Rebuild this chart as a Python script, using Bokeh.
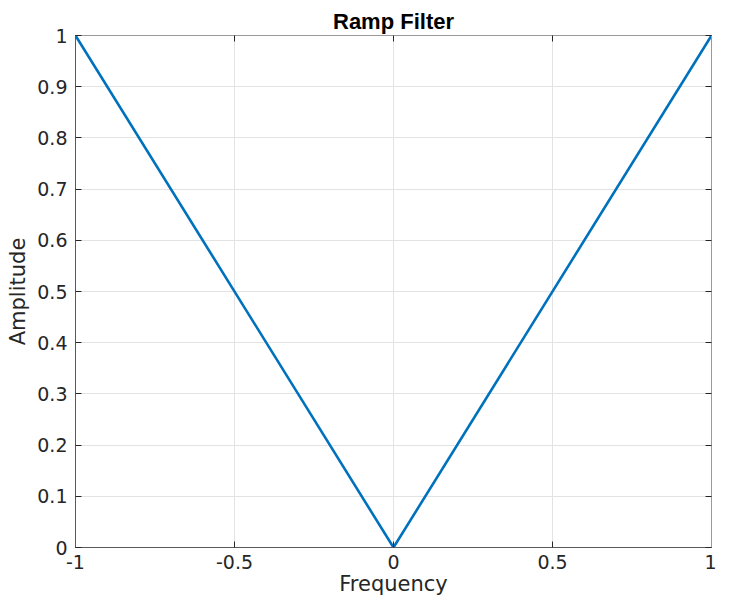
from bokeh.plotting import figure
from bokeh.models import LinearAxis, FixedTicker, Range1d
from bokeh.embed import file_html
from bokeh.resources import INLINE

# Data
frequency = [-1.0, 0.0, 1.0]
amplitude = [1.0, 0.0, 1.0]
x_ticks = [-1, -0.5, 0, 0.5, 1]
x_tick_labels = {-1: "-1", -0.5: "-0.5", 0: "0", 0.5: "0.5", 1: "1"}
y_ticks = [0, 0.1, 0.2, 0.3, 0.4, 0.5, 0.6, 0.7, 0.8, 0.9, 1]
y_tick_labels = {0: "0", 0.1: "0.1", 0.2: "0.2", 0.3: "0.3", 0.4: "0.4", 0.5: "0.5",
                 0.6: "0.6", 0.7: "0.7", 0.8: "0.8", 0.9: "0.9", 1: "1"}

FONT = "DejaVu Sans"
TITLE_FONT = "Liberation Sans"
AXIS_COL = "#5a5a5a"
TEXT_COL = "#262626"

p = figure(width=716, height=598, output_backend="svg", toolbar_location=None,
           x_range=Range1d(-1, 1), y_range=Range1d(0, 1),
           min_border_left=75, min_border_right=5, min_border_top=35, min_border_bottom=0,
           title="Ramp Filter")

p.title.text_font = TITLE_FONT
p.title.text_font_size = "22px"
p.title.text_font_style = "bold"
p.title.align = "center"
p.title.text_color = "#000000"
p.title.standoff = 4
p.title.offset = 0

p.line(frequency, amplitude, line_color="#0072BD", line_width=2.6)

p.xaxis.ticker = FixedTicker(ticks=x_ticks)
p.yaxis.ticker = FixedTicker(ticks=y_ticks)
p.xaxis.major_label_overrides = x_tick_labels
p.yaxis.major_label_overrides = y_tick_labels
p.xaxis.axis_label = "Frequency"
p.yaxis.axis_label = "Amplitude"

for ax in (p.xaxis[0], p.yaxis[0]):
    ax.axis_line_color = AXIS_COL
    ax.axis_line_width = 1
    ax.major_tick_line_color = TEXT_COL
    ax.major_tick_in = 6
    ax.major_tick_out = 0
    ax.minor_tick_in = 0
    ax.minor_tick_out = 0
    ax.major_label_text_font = FONT
    ax.major_label_text_font_size = "19px"
    ax.major_label_text_color = TEXT_COL
    ax.axis_label_text_font = FONT
    ax.axis_label_text_font_size = "21px"
    ax.axis_label_text_font_style = "normal"
    ax.axis_label_text_color = TEXT_COL

p.xaxis.major_label_standoff = 7
p.yaxis.major_label_standoff = 8
p.xaxis.axis_label_standoff = 0
p.yaxis.axis_label_standoff = 4

# box ticks on top and right
for side, ticks in (("above", x_ticks), ("right", y_ticks)):
    ax = LinearAxis(ticker=FixedTicker(ticks=ticks))
    ax.major_label_overrides = {t: "" for t in ticks}
    ax.axis_line_color = "#9a9a9a"
    ax.major_tick_line_color = TEXT_COL
    ax.major_tick_in = 6
    ax.major_tick_out = 0
    ax.minor_tick_in = 0
    ax.minor_tick_out = 0
    ax.major_label_text_font_size = "1px"
    ax.major_label_standoff = 0
    p.add_layout(ax, side)

p.xgrid.grid_line_color = "#e3e3e3"
p.ygrid.grid_line_color = "#e3e3e3"
p.outline_line_color = "#9a9a9a"
p.background_fill_color = "white"
p.border_fill_color = "white"

open("out.html", "w").write(file_html(p, INLINE))
